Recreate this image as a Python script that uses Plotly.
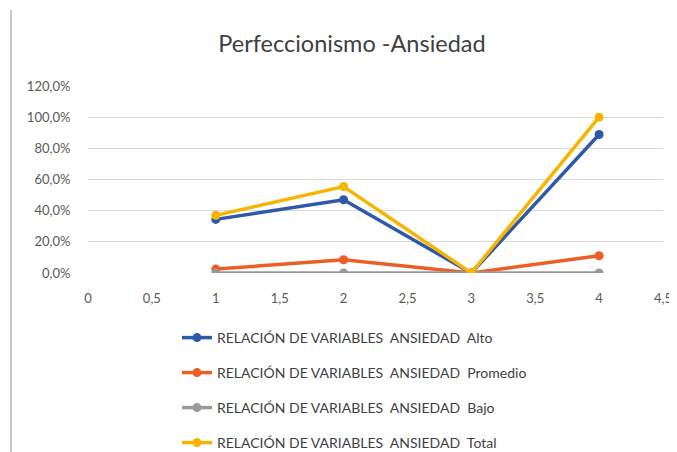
import plotly.graph_objects as go

x_vals = [1, 2, 3, 4]
alto = [0.344, 0.47, 0.0, 0.889]
promedio = [0.025, 0.085, 0.0, 0.111]
bajo = [0.0, 0.0, 0.0, 0.0]
total = [0.37, 0.555, 0.0, 1.0]

series_names = [
    "RELACIÓN DE VARIABLES  ANSIEDAD  Alto",
    "RELACIÓN DE VARIABLES  ANSIEDAD  Promedio",
    "RELACIÓN DE VARIABLES  ANSIEDAD  Bajo",
    "RELACIÓN DE VARIABLES  ANSIEDAD  Total",
]
series_values = [alto, promedio, bajo, total]
colors = ["#2E58A8", "#EC5E26", "#9A9A9A", "#F7B400"]

x_tickvals = [0, 0.5, 1, 1.5, 2, 2.5, 3, 3.5, 4, 4.5]
x_ticktext = ["0", "0,5", "1", "1,5", "2", "2,5", "3", "3,5", "4", "4,5"]
y_tickvals = [0, 0.2, 0.4, 0.6, 0.8, 1.0, 1.2]

# page has an 8px body margin; build the figure in screen coordinates minus that offset
OFF = 8
W, H = 677 - OFF, 452 - OFF
PLOT_L, PLOT_R, PLOT_T, PLOT_B = 88, 663, 86, 273  # screen pixels
L = PLOT_L - OFF
R = (W + OFF) - PLOT_R
T = PLOT_T - OFF
B = (H + OFF) - PLOT_B
pw, ph = PLOT_R - PLOT_L, PLOT_B - PLOT_T

def px_to_paper_x(px):
    return (px - PLOT_L) / pw

def py_to_paper_y(py):
    return (PLOT_B - py) / ph

fig = go.Figure()
legend_keys = ["legend", "legend2", "legend3", "legend4"]
legend_rows = [338, 373, 408, 443]
for name, vals, col, lk in zip(series_names, series_values, colors, legend_keys):
    fig.add_trace(go.Scatter(
        x=x_vals, y=vals, name=name, mode="lines+markers",
        line=dict(color=col, width=3.5),
        marker=dict(color=col, size=9, symbol="circle"),
        legend=lk,
    ))

font_family = "Lato, 'Open Sans', sans-serif"
legend_common = dict(
    font=dict(family=font_family, size=14, color="#404040"),
    bgcolor="rgba(0,0,0,0)",
    xanchor="left", yanchor="middle",
    itemwidth=30,
)
layout_legends = {}
for lk, row in zip(legend_keys, legend_rows):
    d = dict(legend_common)
    d["x"] = px_to_paper_x(177)
    d["y"] = py_to_paper_y(row)
    layout_legends[lk] = d

fig.update_layout(
    width=W, height=H,
    margin=dict(l=L, r=R, t=T, b=B, autoexpand=False),
    paper_bgcolor="white", plot_bgcolor="white",
    separators=",.",
    title=dict(
        text="Perfeccionismo -Ansiedad",
        font=dict(family=font_family, size=23.5, color="#404040"),
        xref="container", x=(352 - OFF) / W, xanchor="center",
        yref="container", y=1 - (44 - OFF) / H, yanchor="middle",
    ),
    xaxis=dict(
        range=[0, 4.5], tickvals=x_tickvals, ticktext=x_ticktext,
        showgrid=False, zeroline=False, showline=False,
        ticks="outside", ticklen=13, tickcolor="rgba(0,0,0,0)",
        tickfont=dict(family=font_family, size=13, color="#595959"),
        fixedrange=True, automargin=False,
    ),
    yaxis=dict(
        range=[0, 1.2], tickvals=y_tickvals, tickformat=".1%",
        showgrid=True, gridcolor="#D9D9D9", gridwidth=1,
        zeroline=False, showline=False,
        ticks="outside", ticklen=14, tickcolor="rgba(0,0,0,0)",
        tickfont=dict(family=font_family, size=13, color="#595959"),
        fixedrange=True, automargin=False,
    ),
    showlegend=True,
    **layout_legends,
)

fig.add_shape(
    type="line", xref="paper", yref="paper",
    x0=px_to_paper_x(11), x1=px_to_paper_x(11),
    y0=py_to_paper_y(10), y1=py_to_paper_y(452),
    line=dict(color="#C8C8C8", width=2),
)

fig.write_html("out.html")
